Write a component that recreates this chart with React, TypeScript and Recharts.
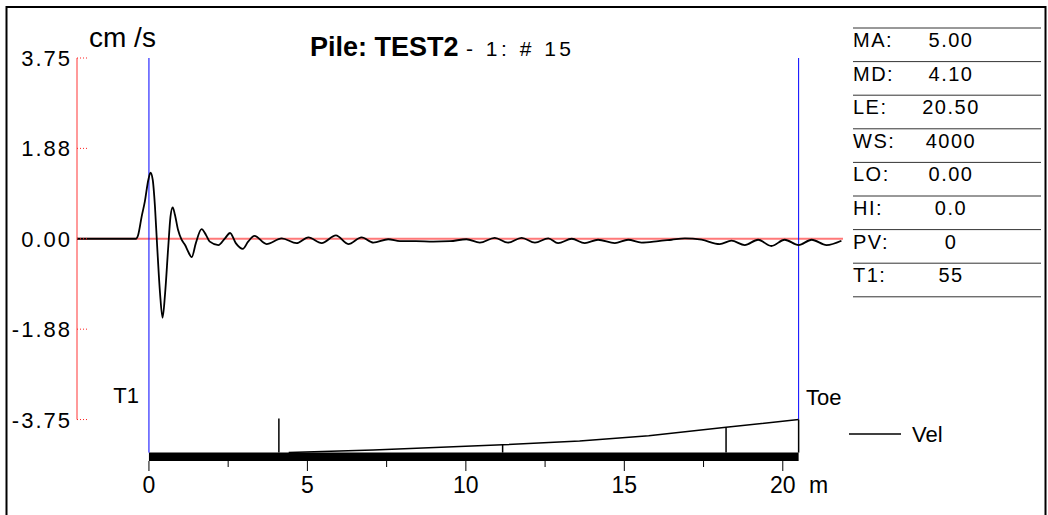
import React from "react";
import { ComposedChart, Line, XAxis, YAxis, ReferenceLine, ReferenceArea } from "recharts";

// velocity trace, x in metres along the pile, v in cm/s
const waveX = [
  -2.27, -0.41, -0.34, -0.23, -0.13, -0.02, 0.05, 0.12, 0.19, 0.26, 0.35, 0.43, 0.51, 0.61, 0.68, 0.75,
  0.82, 0.92, 1.03, 1.14, 1.24, 1.35, 1.48, 1.66, 1.8, 1.92, 2.19, 2.4, 2.56, 2.74, 2.96, 3.13, 3.33,
  3.71, 4.19, 4.66, 5.03, 5.45, 5.9, 6.29, 6.71, 7.08, 7.55, 7.92, 8.42, 8.97, 9.5, 10.02, 10.44, 10.91,
  11.33, 11.76, 12.18, 12.6, 12.91, 13.34, 13.75, 14.17, 14.7, 15.12, 15.54, 16.07, 16.49, 16.91, 17.44,
  18.01, 18.38, 18.8, 19.22, 19.64, 20.06, 20.5, 20.91, 21.38, 21.85,
];
const waveV = [
  0, 0, 0.08, 0.46, 0.77, 1.22, 1.37, 1.22, 0.67, -0.16, -1.13, -1.64, -1.13, -0.16, 0.46, 0.65,
  0.5, 0.18, -0.02, -0.13, -0.27, -0.38, -0.09, 0.2, 0.08, -0.06, -0.13, 0.01, 0.12, -0.09, -0.21, -0.06, 0.06,
  -0.11, 0.01, -0.09, 0.03, -0.09, 0.07, -0.11, 0.03, -0.08, -0.01, -0.05, -0.05, -0.06, -0.05, -0.01, -0.08, 0.02,
  -0.08, 0.02, -0.08, 0.01, -0.09, 0, -0.09, -0.02, -0.09, -0.02, -0.08, -0.05, -0.02, 0.01, -0.02,
  -0.11, -0.04, -0.13, -0.02, -0.15, -0.02, -0.13, -0.02, -0.13, -0.04,
];

// pile profile drawn under the trace
const profileX = [4.41, 7.08, 11.16, 13.59, 15.77, 18.21, 20.5];
const profileZ = [0, 0.31, 0.93, 1.38, 2.0, 3.03, 3.93];
const markerX = [4.1, 11.16, 18.21, 20.5];
const markerZ = [4.05, 0.93, 3.03, 3.93];

const vTicks = [-3.75, -1.875, 0, 1.875, 3.75];
const xTicks = [0, 2.5, 5, 7.5, 10, 12.5, 15, 17.5, 20];

const tableLabels = ["MA:", "MD:", "LE:", "WS:", "LO:", "HI:", "PV:", "T1:"];
const tableValues = ["5.00", "4.10", "20.50", "4000", "0.00", "0.0", "0", "55"];

const X_MIN = -2.27;
const X_MAX = 21.9;
const V_MIN = -4.61;
const V_MAX = 3.75;
const P_MIN = -1;
const P_MAX = 47;
const PILE_LEN = 20.5;
const Y_AXIS_W = 77;

const RED = "#ff7878";
const BLUE = "#0000ff";
const FONT = "'Liberation Sans', Arial, Helvetica, sans-serif";

const waveData = waveX.map((x, i) => ({ x, v: waveV[i] }));
const profileData = profileX.map((x, i) => ({ x, z: profileZ[i] }));

function VTick(props: any) {
  const { y, payload } = props;
  const x = Y_AXIS_W;
  return (
    <g>
      <line x1={x} x2={x + 11} y1={y} y2={y} stroke="#ff2020" strokeDasharray="1 2" />
      <text x={x - 5} y={y} dy={8} textAnchor="end" fontSize={22} letterSpacing={2} fill="#000" fontFamily={FONT}>
        {Number(payload.value).toFixed(2)}
      </text>
    </g>
  );
}

function XTick(props: any) {
  const { x, y, payload } = props;
  const major = payload.value % 5 === 0;
  return (
    <g>
      <line x1={x} x2={x} y1={y} y2={y + (major ? 10 : 6)} stroke="#000" />
      {major && (
        <text x={x} y={y + 32} textAnchor="middle" fontSize={23} fill="#000" fontFamily={FONT}>
          {payload.value}
        </text>
      )}
    </g>
  );
}

export default function App() {
  return (
    <div style={{ position: "absolute", left: 0, top: 0, width: 1048, height: 515, background: "#fff", fontFamily: FONT }}>
      <ComposedChart width={1048} height={515} margin={{ top: 58, right: 205, bottom: 14, left: 0 }}>
        <XAxis
          type="number"
          dataKey="x"
          domain={[X_MIN, X_MAX]}
          ticks={xTicks}
          interval={0}
          allowDataOverflow
          axisLine={false}
          tickLine={false}
          tickSize={0}
          tickMargin={0}
          height={40}
          tick={<XTick />}
        />
        <YAxis
          yAxisId="v"
          type="number"
          domain={[V_MIN, V_MAX]}
          ticks={vTicks}
          interval={0}
          allowDataOverflow
          axisLine={false}
          tickLine={false}
          tickSize={0}
          tickMargin={0}
          width={Y_AXIS_W}
          tick={<VTick />}
        />
        <YAxis yAxisId="p" hide type="number" domain={[P_MIN, P_MAX]} allowDataOverflow />

        <ReferenceLine yAxisId="v" y={0} stroke={RED} strokeWidth={2.2} ifOverflow="visible" />
        <ReferenceLine
          yAxisId="v"
          segment={[{ x: X_MIN, y: -3.75 }, { x: X_MIN, y: 3.75 }]}
          stroke={RED}
          strokeWidth={1.5}
          ifOverflow="visible"
        />
        <ReferenceLine
          yAxisId="p"
          segment={[{ x: 0, y: 0 }, { x: 0, y: P_MAX }]}
          stroke={BLUE}
          strokeWidth={1}
          ifOverflow="visible"
        />
        <ReferenceLine
          yAxisId="p"
          segment={[{ x: PILE_LEN, y: markerZ[3] }, { x: PILE_LEN, y: P_MAX }]}
          stroke={BLUE}
          strokeWidth={1}
          ifOverflow="visible"
        />
        <ReferenceArea
          yAxisId="p"
          x1={0}
          x2={PILE_LEN}
          y1={P_MIN}
          y2={0}
          fill="#000"
          fillOpacity={1}
          stroke="none"
          ifOverflow="visible"
        />
        {markerX.map((mx, i) => (
          <ReferenceLine
            key={mx}
            yAxisId="p"
            segment={[{ x: mx, y: 0 }, { x: mx, y: markerZ[i] }]}
            stroke="#000"
            strokeWidth={1.5}
            ifOverflow="visible"
          />
        ))}

        <Line
          yAxisId="p"
          data={profileData}
          dataKey="z"
          type="linear"
          stroke="#000"
          strokeWidth={1.5}
          dot={false}
          isAnimationActive={false}
        />
        <Line
          yAxisId="v"
          data={waveData}
          dataKey="v"
          type="monotone"
          stroke="#000"
          strokeWidth={1.8}
          dot={false}
          isAnimationActive={false}
        />
      </ComposedChart>

      <svg width={1048} height={515} style={{ position: "absolute", left: 0, top: 0, pointerEvents: "none" }} fontFamily={FONT}>
        <rect x={6.5} y={7} width={1039} height={540} fill="none" stroke="#000" strokeWidth={2} />

        <text x={89} y={47} fontSize={28}>cm /s</text>
        <text x={310} y={56} fontSize={27} fontWeight="bold">Pile: TEST2</text>
        <text x={466} y={56} fontSize={21} letterSpacing={3.5}>- 1: # 15</text>

        {tableLabels.map((lab, i) => (
          <g key={lab}>
            <line x1={853} x2={1041} y1={28 + i * 33.6} y2={28 + i * 33.6} stroke="#333" />
            <text x={853} y={47 + i * 33.6} fontSize={20} letterSpacing={1.5}>{lab}</text>
            <text x={951} y={47 + i * 33.6} fontSize={20} letterSpacing={1.5} textAnchor="middle">{tableValues[i]}</text>
          </g>
        ))}
        <line x1={853} x2={1041} y1={28 + 8 * 33.6} y2={28 + 8 * 33.6} stroke="#333" />

        <text x={139} y={403} fontSize={22} textAnchor="end">T1</text>
        <text x={806} y={405} fontSize={22}>Toe</text>
        <text x={809} y={493} fontSize={23}>m</text>

        <line x1={849} x2={901} y1={434} y2={434} stroke="#000" strokeWidth={1.5} />
        <text x={912} y={442} fontSize={22}>Vel</text>
      </svg>
    </div>
  );
}
